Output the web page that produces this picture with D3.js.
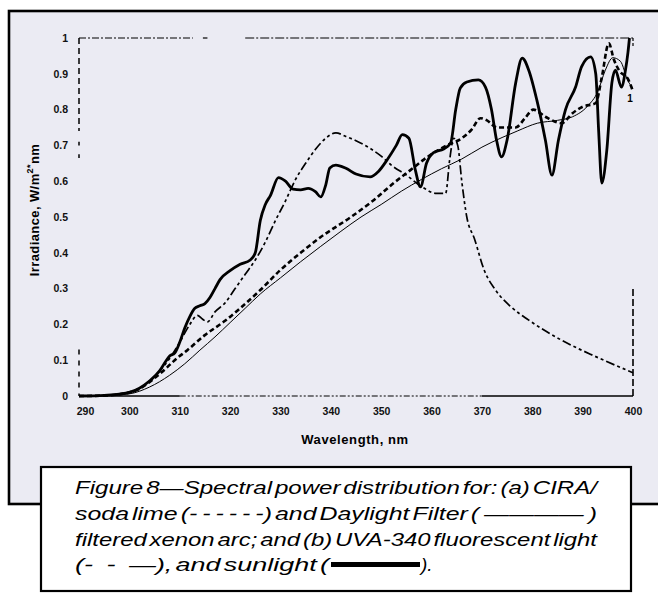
<!DOCTYPE html>
<html>
<head>
<meta charset="utf-8">
<script src="https://cdn.jsdelivr.net/npm/d3@7"></script>
<style>
  html, body { margin: 0; padding: 0; background: #ffffff; }
  svg { display: block; }
</style>
</head>
<body>
<svg id="chart" width="658" height="597"></svg>
<script>
// Wavelength axis (nm) and irradiance axis (W/m²·nm)
const xTicks = [290, 300, 310, 320, 330, 340, 350, 360, 370, 380, 390, 400];
const yTicks = [0, 0.1, 0.2, 0.3, 0.4, 0.5, 0.6, 0.7, 0.8, 0.9, 1];
const yTickLabels = ["0", "0.1", "0.2", "0.3", "0.4", "0.5", "0.6", "0.7", "0.8", "0.9", "1"];

// Sunlight
const sunWl = [290, 295, 298, 300, 302, 304, 306, 307, 308, 309, 310, 311, 312, 313, 314, 315, 316, 317, 318, 320, 322, 324, 325, 326, 327, 328, 329.6, 331, 332.5, 334, 335.5, 337, 338, 339, 339.8, 341, 343, 345, 347.8, 349.5, 351.2, 353, 354.2, 355.5, 356.8, 357.8, 359, 360.4, 362.4, 363.8, 364.8, 365.7, 367, 369.3, 370.7, 371.9, 372.9, 373.9, 375, 376.7, 378, 379.3, 380.9, 382.6, 383.9, 385.2, 386.6, 388.6, 389.8, 391.6, 392.6, 393.2, 393.8, 394.8, 395.8, 396.5, 397.7, 398.5, 399, 399.3];
const sunVal = [0, 0.002, 0.005, 0.01, 0.022, 0.042, 0.07, 0.092, 0.112, 0.12, 0.15, 0.19, 0.222, 0.245, 0.252, 0.258, 0.275, 0.3, 0.325, 0.35, 0.368, 0.38, 0.4, 0.49, 0.535, 0.56, 0.61, 0.6, 0.578, 0.576, 0.58, 0.57, 0.556, 0.59, 0.637, 0.645, 0.636, 0.62, 0.612, 0.628, 0.66, 0.7, 0.73, 0.72, 0.63, 0.584, 0.65, 0.68, 0.69, 0.707, 0.8, 0.86, 0.877, 0.883, 0.863, 0.8, 0.715, 0.668, 0.715, 0.874, 0.944, 0.91, 0.827, 0.715, 0.617, 0.715, 0.8, 0.863, 0.92, 0.947, 0.9, 0.735, 0.595, 0.687, 0.874, 0.91, 0.863, 0.91, 0.96, 1.0];

// CIRA / soda lime filtered xenon arc
const ciraWl = [290, 295, 298, 302, 305, 307.5, 309, 311.5, 315, 319, 322, 326, 330, 334, 338, 344, 348.5, 352.5, 355.8, 359.2, 363, 366, 368, 369.7, 371, 373, 376.7, 378.5, 380.2, 382.6, 385.8, 388, 390, 392.6, 393.8, 395.2, 396.2, 397.2, 399.1, 400];
const ciraVal = [0, 0.001, 0.005, 0.02, 0.05, 0.08, 0.1, 0.128, 0.17, 0.21, 0.245, 0.296, 0.352, 0.4, 0.444, 0.5, 0.547, 0.595, 0.631, 0.668, 0.7, 0.72, 0.745, 0.776, 0.77, 0.75, 0.75, 0.775, 0.8, 0.78, 0.762, 0.79, 0.808, 0.818, 0.89, 0.985, 0.94, 0.91, 0.883, 0.85];

// Daylight Filter filtered xenon arc
const dayWl = [290, 295, 300, 304, 308, 311, 314, 317, 320, 323, 326, 330, 334, 338, 342, 346, 350, 354, 358, 362, 366, 370, 374, 377, 381, 385, 388, 391, 393, 394.5, 396, 397.5, 399, 400];
const dayVal = [0, 0.001, 0.006, 0.025, 0.058, 0.09, 0.128, 0.165, 0.205, 0.245, 0.285, 0.33, 0.375, 0.418, 0.46, 0.5, 0.535, 0.572, 0.605, 0.635, 0.662, 0.695, 0.722, 0.74, 0.762, 0.77, 0.78, 0.81, 0.85, 0.91, 0.945, 0.935, 0.88, 0.86];

// UVA-340 fluorescent light
const uvaWl = [290, 295, 300, 303, 306, 308, 310, 312, 313.5, 314.5, 315.5, 317, 319, 321, 323, 325, 327, 329, 331, 333, 335, 337, 339, 341, 343, 345, 348, 350, 352, 355, 358, 361, 362.8, 363.6, 364.4, 365.2, 366, 367, 368.5, 370.5, 372.7, 375.7, 379.3, 385.8, 392.6, 400];
const uvaVal = [0, 0.002, 0.008, 0.03, 0.07, 0.105, 0.15, 0.2, 0.225, 0.215, 0.207, 0.235, 0.26, 0.3, 0.34, 0.38, 0.43, 0.49, 0.545, 0.605, 0.65, 0.69, 0.72, 0.735, 0.725, 0.713, 0.69, 0.67, 0.645, 0.617, 0.585, 0.566, 0.566, 0.66, 0.72, 0.7, 0.6, 0.5, 0.44, 0.35, 0.296, 0.25, 0.212, 0.156, 0.11, 0.065];

// Caption text; the line-style samples use fixed-width spaces so they keep their gaps
const captionLines = [
  "Figure 8\u2014Spectral power distribution for: (a) CIRA/",
  "soda lime (-\u2009-\u2009-\u2009-\u2009-\u2009-) and Daylight Filter (\u2009\u2014\u2014\u2014\u2014\u2009)",
  "filtered xenon arc; and (b) UVA-340 fluorescent light"
];
const captionLast = ["(-\u2002-\u2002\u2014), and sunlight (", ")."];

const svg = d3.select("#chart");

// Figure panel
svg.append("rect").attr("x", 9).attr("y", 11).attr("width", 700).attr("height", 493)
  .attr("fill", "#ebebf3").attr("stroke", "#000").attr("stroke-width", 2.6);

const x = d3.scaleLinear().domain([290, 400]).range([79, 633]);
const y = d3.scaleLinear().domain([0, 1]).range([396, 38]);

// Plot frame (broken dash-dot lines)
const frame = svg.append("g").attr("stroke", "#000").attr("fill", "none");
function seg(x1, y1, x2, y2, dash, w) {
  frame.append("line").attr("x1", x(x1)).attr("y1", y(y1)).attr("x2", x(x2)).attr("y2", y(y2))
    .attr("stroke-width", w || 1.2).attr("stroke-dasharray", dash || null);
}
seg(290, 1, 312.6, 1, "7,2,2,2");
seg(314.6, 1, 315.5, 1, null);
seg(323, 1, 400, 1, "9,2,2,2");
seg(400, 1, 400, 0.975, "3,2");
seg(290, 1, 290, 0.74, "6,4", 1.5);
seg(290, 0.71, 290, 0.7, null, 1.5);
seg(290, 0.675, 290, 0.665, null, 1.5);
seg(290, 0.13, 290, 0, "5,6", 1.5);
seg(290, 0, 310, 0, null, 1.6);
seg(310, 0, 370, 0, "6,2,2,2,2,2", 1.1);
seg(370, 0, 400, 0, null, 1.4);
seg(400, 0, 400, 0.3, "7,3", 1.6);

// Axes
const xAxis = svg.append("g").attr("transform", `translate(0,${y(0)})`)
  .call(d3.axisBottom(x).tickValues(xTicks).tickSize(0).tickPadding(12).tickFormat(d3.format("d")));
const yAxis = svg.append("g").attr("transform", `translate(${x(290)},0)`)
  .call(d3.axisLeft(y).tickValues(yTicks).tickSize(0).tickPadding(11)
    .tickFormat((d, i) => yTickLabels[i]));
[xAxis, yAxis].forEach(a => {
  a.select(".domain").remove();
  a.selectAll("text").attr("font-family", "Liberation Sans, Arial, sans-serif")
    .attr("font-weight", "bold").attr("font-size", 10.5).attr("fill", "#111");
});
xAxis.selectAll("text").filter(d => d === 290).attr("dx", 6);

// Axis titles
svg.append("text").attr("x", 355).attr("y", 444).attr("text-anchor", "middle")
  .attr("font-family", "Liberation Sans, Arial, sans-serif").attr("font-weight", "bold")
  .attr("font-size", 13).attr("letter-spacing", 0.6).text("Wavelength, nm");
const yTitle = svg.append("text").attr("transform", "translate(39,210) rotate(-90)")
  .attr("text-anchor", "middle").attr("font-family", "Liberation Sans, Arial, sans-serif")
  .attr("font-weight", "bold").attr("font-size", 13).attr("letter-spacing", 0.4);
yTitle.append("tspan").text("Irradiance, W/m");
yTitle.append("tspan").attr("dy", -6).attr("font-size", 9).text("2*");
yTitle.append("tspan").attr("dy", 6).text("nm");

// Series
const line = d3.line().x(d => x(d[0])).y(d => y(d[1])).curve(d3.curveMonotoneX);
const series = [
  { wl: dayWl, val: dayVal, width: 1, dash: null },
  { wl: uvaWl, val: uvaVal, width: 1.7, dash: "3,3,3,3,9,3" },
  { wl: ciraWl, val: ciraVal, width: 2.6, dash: "5,3" },
  { wl: sunWl, val: sunVal, width: 2.8, dash: null }
];
series.forEach(s => {
  svg.append("path").datum(d3.zip(s.wl, s.val)).attr("d", line)
    .attr("fill", "none").attr("stroke", "#000").attr("stroke-width", s.width)
    .attr("stroke-dasharray", s.dash).attr("stroke-linejoin", "round");
});

// Stray curve label near the top-right
svg.append("text").attr("x", 630).attr("y", 102).attr("text-anchor", "middle")
  .attr("font-family", "Liberation Sans, Arial, sans-serif").attr("font-weight", "bold")
  .attr("font-size", 10).text("1");

// Caption box
svg.append("rect").attr("x", 41).attr("y", 467).attr("width", 590).attr("height", 124)
  .attr("fill", "#fff").attr("stroke", "#000").attr("stroke-width", 2.2);
const capFont = "Liberation Sans, Arial, sans-serif";
const baselines = [494, 520, 546, 571];
captionLines.forEach((t, i) => {
  svg.append("text").attr("x", 75).attr("y", baselines[i]).attr("font-family", capFont)
    .attr("font-style", "italic").attr("font-size", 19).attr("word-spacing", -3)
    .attr("textLength", 522).attr("lengthAdjust", "spacingAndGlyphs").text(t);
});
svg.append("text").attr("x", 75).attr("y", baselines[3]).attr("font-family", capFont)
  .attr("font-style", "italic").attr("font-size", 19).attr("word-spacing", -3)
  .attr("textLength", 254).attr("lengthAdjust", "spacingAndGlyphs").text(captionLast[0]);
svg.append("rect").attr("x", 331).attr("y", baselines[3] - 9).attr("width", 89).attr("height", 5)
  .attr("fill", "#000");
svg.append("text").attr("x", 421).attr("y", baselines[3]).attr("font-family", capFont)
  .attr("font-style", "italic").attr("font-size", 19).text(captionLast[1]);
</script>
</body>
</html>
